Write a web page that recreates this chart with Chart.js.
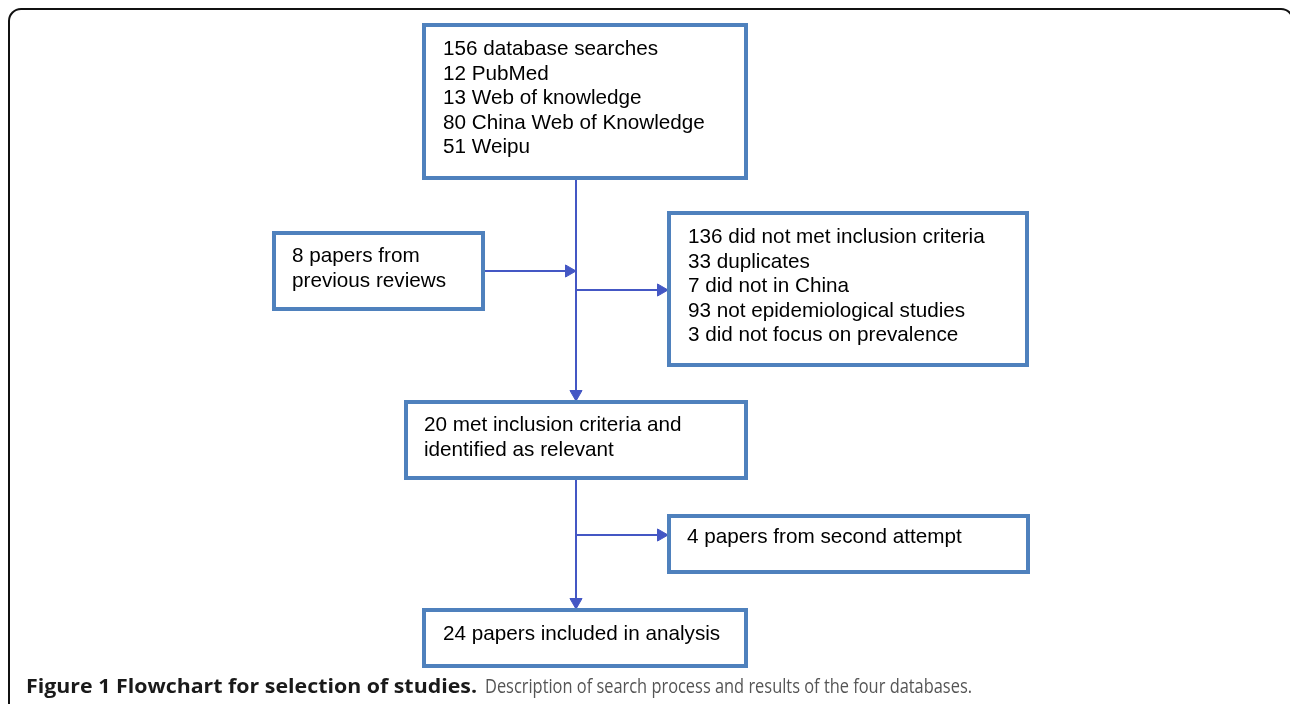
<!DOCTYPE html>
<html>
<head>
<meta charset="utf-8">
<script src="https://cdn.jsdelivr.net/npm/chart.js@4.4.1/dist/chart.umd.min.js"></script>
<style>
  html, body { margin: 0; padding: 0; background: #fff; }
  canvas { display: block; }
</style>
</head>
<body>
<canvas id="flow" width="1290" height="704"></canvas>
<script>
// box texts
const searchLines = ['156 database searches', '12 PubMed', '13 Web of knowledge', '80 China Web of Knowledge', '51 Weipu'];
const reviewLines = ['8 papers from', 'previous reviews'];
const excludedLines = ['136 did not met inclusion criteria', '33 duplicates', '7 did not in China', '93 not epidemiological studies', '3 did not focus on prevalence'];
const relevantLines = ['20 met inclusion criteria and', 'identified as relevant'];
const secondLines = ['4 papers from second attempt'];
const finalLines = ['24 papers included in analysis'];
const captionBold = 'Figure 1 Flowchart for selection of studies.';
const captionText = 'Description of search process and results of the four databases.';

// layout (page pixels, the scales map 1:1)
const boxes = [
  { lines: searchLines,   x0: 424, y0: 25,  x1: 746,  y1: 178, tx: 443, ty: 55 },
  { lines: reviewLines,   x0: 274, y0: 233, x1: 483,  y1: 309, tx: 292, ty: 262 },
  { lines: excludedLines, x0: 669, y0: 213, x1: 1027, y1: 365, tx: 688, ty: 243 },
  { lines: relevantLines, x0: 406, y0: 402, x1: 746,  y1: 478, tx: 424, ty: 431 },
  { lines: secondLines,   x0: 669, y0: 516, x1: 1028, y1: 572, tx: 687, ty: 543 },
  { lines: finalLines,    x0: 424, y0: 610, x1: 746,  y1: 666, tx: 443, ty: 640 }
];
const lineGap = 24.5;
const spineX = 576;
// connectors: from, to, arrow direction at the end
const links = [
  { from: [spineX, 178], to: [spineX, 401], dir: 'down' },
  { from: [483, 271],    to: [spineX, 271], dir: 'right' },
  { from: [spineX, 290], to: [668, 290],    dir: 'right' },
  { from: [spineX, 478], to: [spineX, 609], dir: 'down' },
  { from: [spineX, 535], to: [668, 535],    dir: 'right' }
];

const boxColor = '#4f81bd';
const linkColor = '#4457c4';
const headR = 7;

const datasets = [];
boxes.forEach(b => {
  datasets.push({
    data: [{x: b.x0, y: b.y0}, {x: b.x1, y: b.y0}, {x: b.x1, y: b.y1}, {x: b.x0, y: b.y1}, {x: b.x0, y: b.y0}],
    showLine: true,
    borderColor: boxColor,
    borderWidth: 4,
    borderJoinStyle: 'miter',
    borderCapStyle: 'square',
    pointRadius: 0
  });
});
links.forEach(l => {
  datasets.push({
    data: [{x: l.from[0], y: l.from[1]}, {x: l.to[0], y: l.to[1]}],
    showLine: true,
    borderColor: linkColor,
    borderWidth: 2,
    pointRadius: 0
  });
  // arrowhead: triangle tip sits on the end point
  const c = l.dir === 'down' ? {x: l.to[0], y: l.to[1] - headR} : {x: l.to[0] - headR, y: l.to[1]};
  datasets.push({
    data: [c],
    pointStyle: 'triangle',
    pointRadius: headR,
    rotation: l.dir === 'down' ? 180 : 90,
    backgroundColor: linkColor,
    borderColor: linkColor,
    borderWidth: 1
  });
});

// squeeze / stretch a string to the width it has in the figure
function fitText(ctx, text, x, y, w) {
  const natural = ctx.measureText(text).width;
  ctx.save();
  ctx.translate(x, y);
  ctx.scale(w / natural, 1);
  ctx.fillText(text, 0, 0);
  ctx.restore();
}

const framePlugin = {
  id: 'frame',
  beforeDraw(chart) {
    const ctx = chart.ctx;
    ctx.save();
    ctx.fillStyle = '#fff';
    ctx.fillRect(0, 0, chart.width, chart.height);
    ctx.strokeStyle = '#111';
    ctx.lineWidth = 2;
    ctx.beginPath();
    ctx.roundRect(9, 9, 1284, 720, 12);
    ctx.stroke();
    ctx.restore();
  },
  afterDatasetsDraw(chart) {
    const ctx = chart.ctx;
    const xs = chart.scales.x, ys = chart.scales.y;
    ctx.save();
    ctx.fillStyle = '#000';
    ctx.font = '20.7px "Liberation Sans", Arial, sans-serif';
    ctx.textBaseline = 'alphabetic';
    boxes.forEach(b => {
      b.lines.forEach((t, i) => {
        ctx.fillText(t, xs.getPixelForValue(b.tx), ys.getPixelForValue(b.ty + i * lineGap));
      });
    });
    // caption
    const baseY = 693;
    ctx.font = 'bold 20px "Open Sans", sans-serif';
    ctx.fillStyle = '#1a1a1a';
    fitText(ctx, captionBold, 26, baseY, 451);
    ctx.font = '19.5px "Open Sans", sans-serif';
    ctx.fillStyle = '#555';
    fitText(ctx, captionText, 485, baseY, 487);
    ctx.restore();
  }
};

new Chart(document.getElementById('flow'), {
  type: 'scatter',
  data: { datasets: datasets },
  options: {
    responsive: false,
    animation: false,
    layout: { padding: 0, autoPadding: false },
    scales: {
      x: { type: 'linear', min: 0, max: 1290, display: false },
      y: { type: 'linear', min: 0, max: 704, reverse: true, display: false }
    },
    plugins: {
      legend: { display: false },
      tooltip: { enabled: false }
    }
  },
  plugins: [framePlugin]
});
</script>
</body>
</html>
